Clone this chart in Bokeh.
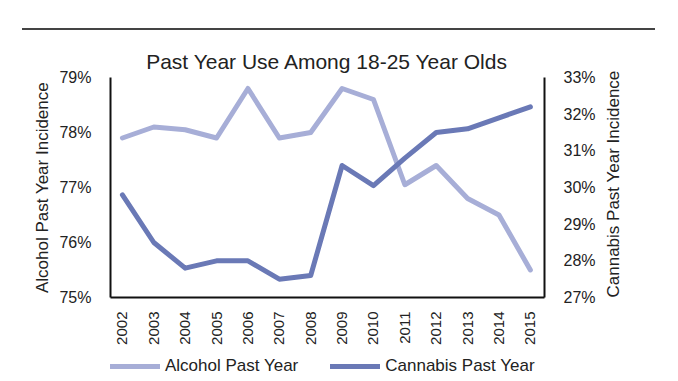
import math
from bokeh.plotting import figure
from bokeh.models import (Range1d, LinearAxis, FixedTicker, PrintfTickFormatter,
                          Legend, LegendItem, ColumnDataSource, Div)
from bokeh.layouts import column
from bokeh.embed import file_html
from bokeh.resources import INLINE

years = [2002, 2003, 2004, 2005, 2006, 2007, 2008, 2009, 2010, 2011, 2012, 2013, 2014, 2015]
alcohol = [77.9, 78.1, 78.05, 77.9, 78.8, 77.9, 78.0, 78.8, 78.6, 77.05, 77.4, 76.8, 76.5, 75.5]
cannabis = [29.8, 28.5, 27.8, 28.0, 28.0, 27.5, 27.6, 30.6, 30.05, 30.8, 31.5, 31.6, 31.9, 32.2]

title_text = "Past Year Use Among 18-25 Year Olds"
left_label = "Alcohol Past Year Incidence"
right_label = "Cannabis Past Year Incidence"
alc_name = "Alcohol Past Year"
can_name = "Cannabis Past Year"

FONT = "Liberation Sans"
ALC_COLOR = "#a7aed7"
CAN_COLOR = "#6a79b6"
TXT = "#222222"

src = ColumnDataSource(dict(year=years, alcohol=alcohol, cannabis=cannabis))

# thin page rule above the chart
rule = Div(text="", width=633, height=30, margin=(0, 0, 0, 22),
           styles={"border-bottom": "2px solid #444444"})

# --- main chart ---
p = figure(frame_width=434, frame_height=220, output_backend="svg", toolbar_location=None,
           x_range=Range1d(2001.62, 2015.45), y_range=Range1d(75, 79),
           min_border_left=110, min_border_right=134, min_border_top=47,
           min_border_bottom=58, x_axis_type=None, y_axis_type=None)
p.extra_y_ranges = {"can": Range1d(27, 33)}
p.outline_line_color = None
p.background_fill_color = "white"
p.border_fill_color = "white"

p.title.text = title_text
p.title.align = "center"
p.title.text_font = FONT
p.title.text_font_size = "21px"
p.title.text_font_style = "normal"
p.title.text_color = TXT
p.title.standoff = 9

def style_axis(ax, label_standoff, tick_font):
    ax.axis_line_color = "#111111"
    ax.axis_line_width = 2
    ax.major_tick_line_color = None
    ax.minor_tick_line_color = None
    ax.major_tick_out = 0
    ax.major_tick_in = 0
    ax.major_label_text_font = FONT
    ax.major_label_text_font_size = tick_font
    ax.major_label_text_color = TXT
    ax.major_label_standoff = label_standoff
    ax.axis_label_text_font = FONT
    ax.axis_label_text_font_size = "17px"
    ax.axis_label_text_font_style = "normal"
    ax.axis_label_text_color = TXT
    ax.axis_label_standoff = 4

xax = LinearAxis(ticker=FixedTicker(ticks=years))
style_axis(xax, 14, "15px")
xax.major_label_orientation = math.pi / 2
p.add_layout(xax, "below")

lax = LinearAxis(ticker=FixedTicker(ticks=[75, 76, 77, 78, 79]),
                 formatter=PrintfTickFormatter(format="%d%%"), axis_label=left_label)
style_axis(lax, 19, "16px")
p.add_layout(lax, "left")

rax = LinearAxis(y_range_name="can", ticker=FixedTicker(ticks=[27, 28, 29, 30, 31, 32, 33]),
                 formatter=PrintfTickFormatter(format="%d%%"))
style_axis(rax, 19, "16px")
p.add_layout(rax, "right")

# right-hand axis title, reading bottom-to-top from the bottom of the frame
rlab = LinearAxis(y_range_name="can", ticker=FixedTicker(ticks=[27]),
                  major_label_overrides={27: right_label})
style_axis(rlab, 15, "17px")
rlab.axis_line_color = None
rlab.major_label_orientation = math.pi / 2
p.add_layout(rlab, "right")

p.line("year", "alcohol", source=src, line_color=ALC_COLOR, line_width=5,
       line_join="round", line_cap="round")
p.line("year", "cannabis", source=src, y_range_name="can", line_color=CAN_COLOR,
       line_width=5, line_join="round", line_cap="round")

# --- legend strip below the chart ---
lg = figure(frame_width=434, frame_height=22, output_backend="svg", toolbar_location=None,
            x_range=Range1d(2001.62, 2015.45), y_range=Range1d(0, 1),
            min_border_left=110, min_border_right=134, min_border_top=0,
            min_border_bottom=0, x_axis_type=None, y_axis_type=None)
lg.outline_line_color = None
lg.background_fill_color = "white"
lg.border_fill_color = "white"
# same series (outside this strip's visible range); only their legend keys show
k_alc = lg.line("year", "alcohol", source=src, line_color=ALC_COLOR, line_width=5,
                line_join="round", line_cap="round")
k_can = lg.line("year", "cannabis", source=src, line_color=CAN_COLOR, line_width=5,
                line_join="round", line_cap="round")

legend = Legend(items=[LegendItem(label=alc_name, renderers=[k_alc]),
                       LegendItem(label=can_name, renderers=[k_can])],
                orientation="horizontal", location=(0, 1))
legend.label_text_font = FONT
legend.label_text_font_size = "17px"
legend.label_text_color = TXT
legend.glyph_width = 50
legend.glyph_height = 20
legend.label_height = 20
legend.label_standoff = 5
legend.spacing = 32
legend.padding = 0
legend.margin = 0
legend.border_line_color = None
legend.background_fill_alpha = 0
lg.add_layout(legend, "center")

layout = column(rule, p, lg, spacing=0)
open("out.html", "w").write(file_html(layout, INLINE))
